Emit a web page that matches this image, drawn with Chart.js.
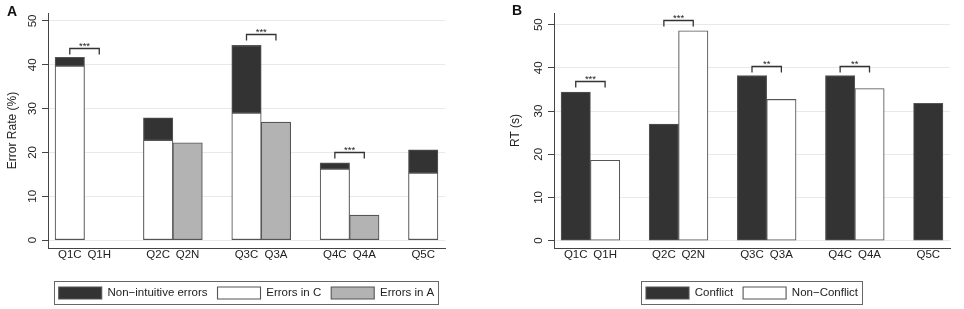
<!DOCTYPE html>
<html>
<head>
<meta charset="utf-8">
<script src="https://cdn.jsdelivr.net/npm/chart.js@4.4.1/dist/chart.umd.min.js"></script>
<style>
  body { margin: 0; background: #fff; }
  #wrap { position: relative; width: 964px; height: 309px; }
  .panel { position: absolute; top: 0; width: 482px; height: 309px; }
  .tag { position: absolute; font: bold 14px "Liberation Sans", Arial, sans-serif; line-height: 14px; color: #111; }
</style>
</head>
<body>
<div id="wrap">
  <div class="panel" style="left:0"><canvas id="chartA" width="482" height="309"></canvas></div>
  <div class="panel" style="left:482px"><canvas id="chartB" width="482" height="309"></canvas></div>
  <div class="tag" style="left:7px;top:4px">A</div>
  <div class="tag" style="left:512px;top:3px">B</div>
</div>
<script>
var questions = ['Q1C', 'Q1H', 'Q2C', 'Q2N', 'Q3C', 'Q3A', 'Q4C', 'Q4A', 'Q5C'];

// panel A - error rate (%)
var errorsC      = [39.7, null, 22.8, null, 29.0, null, 16.2, null, 15.3];
var nonIntuitive = [ 2.0, null,  5.1, null, 15.4, null,  1.4, null,  5.3];
var errorsA      = [null, null, null, 22.2, null, 26.9, null,  5.7, null];

// panel B - RT (s)
var conflict    = [34.4, null, 27.0, null, 38.2, null, 38.2, null, 31.8];
var nonConflict = [null, 18.6, null, 48.6, null, 32.7, null, 35.2, null];

var yTicks = [0, 10, 20, 30, 40, 50];

// significance brackets: question pair, stars, bracket height
var sigPairsA  = [0, 2, 3];
var sigStarsA  = ['***', '***', '***'];
var sigHeightA = [43.9, 47.0, 20.2];
var sigPairsB  = [0, 1, 2, 3];
var sigStarsB  = ['***', '***', '**', '**'];
var sigHeightB = [37.0, 51.0, 40.5, 40.5];

var FONT = '"Liberation Sans", Arial, sans-serif';
Chart.defaults.font.family = FONT;
Chart.defaults.color = '#222';

// pairs sit side by side, one empty slot between groups
function slot(i) { return i + Math.floor(i / 2); }
var positions = questions.map(function (q, i) { return slot(i); });

function bar(label, data, fill) {
  return {
    label: label, data: data, backgroundColor: fill,
    borderColor: '#555', borderWidth: 1.1, borderSkipped: false,
    barPercentage: 1, categoryPercentage: 1
  };
}

function brackets(pairs, stars, heights) {
  return {
    id: 'brackets',
    afterDatasetsDraw: function (chart) {
      var ctx = chart.ctx, xs = chart.scales.x, ys = chart.scales.y;
      ctx.save();
      ctx.strokeStyle = '#333';
      ctx.lineWidth = 1.3;
      ctx.fillStyle = '#222';
      ctx.font = '9.5px ' + FONT;
      ctx.textAlign = 'center';
      ctx.textBaseline = 'alphabetic';
      pairs.forEach(function (p, k) {
        var x1 = xs.getPixelForValue(slot(2 * p));
        var x2 = xs.getPixelForValue(slot(2 * p + 1));
        var y = Math.round(ys.getPixelForValue(heights[k])) + 0.5;
        ctx.beginPath();
        ctx.moveTo(x1, y + 6);
        ctx.lineTo(x1, y);
        ctx.lineTo(x2, y);
        ctx.lineTo(x2, y + 6);
        ctx.stroke();
        ctx.fillText(stars[k], (x1 + x2) / 2, y);
      });
      ctx.restore();
    }
  };
}

var legendFrame = {
  id: 'legendFrame',
  afterDraw: function (chart) {
    var hb = chart.legend.legendHitBoxes;
    if (!hb || !hb.length) return;
    var first = hb[0], last = hb[hb.length - 1];
    var ctx = chart.ctx;
    ctx.save();
    ctx.strokeStyle = '#666';
    ctx.lineWidth = 1;
    var l = Math.round(first.left - 5) + 0.5;
    var t = Math.round(first.top - 6) + 0.5;
    var r = Math.round(last.left + last.width + 4) + 0.5;
    var b = Math.round(first.top + 17) + 0.5;
    ctx.strokeRect(l, t, r - l, b - t);
    ctx.restore();
  }
};

function makeChart(id, datasets, legendOrder, opts) {
  return new Chart(document.getElementById(id), {
    type: 'bar',
    data: { labels: positions, datasets: datasets },
    options: {
      responsive: false,
      animation: false,
      layout: { padding: { top: 13, right: opts.padRight, left: 0, bottom: 0 } },
      plugins: {
        tooltip: { enabled: false },
        legend: {
          position: 'bottom',
          fullSize: false,
          labels: {
            boxWidth: 43, boxHeight: 12, padding: 10,
            font: { size: 11.5 }, color: '#222',
            sort: function (a, b) {
              return legendOrder.indexOf(a.datasetIndex) - legendOrder.indexOf(b.datasetIndex);
            }
          }
        }
      },
      scales: {
        x: {
          type: 'linear',
          min: -0.74, max: 12.74,
          offset: false,
          stacked: true,
          grid: { display: false, drawTicks: false },
          border: { color: '#444', width: 1 },
          ticks: {
            autoSkip: false, maxRotation: 0, padding: 0,
            font: { size: 11.5 }, color: '#222',
            callback: function (v, i) { return questions[i]; }
          },
          afterBuildTicks: function (s) {
            s.ticks = positions.map(function (v) { return { value: v }; });
          },
          afterFit: function (s) { s.height = 29; }
        },
        y: {
          min: opts.yMin, max: opts.yMax,
          stacked: opts.stackY,
          grid: { color: '#e6eaeb', tickColor: '#444', tickLength: 6, lineWidth: 1 },
          border: { color: '#444', width: 1 },
          ticks: {
            minRotation: 90, maxRotation: 90, crossAlign: 'center', padding: 3,
            font: { size: 11.5 }, color: '#222'
          },
          afterBuildTicks: function (s) {
            s.ticks = yTicks.map(function (v) { return { value: v }; });
          },
          title: {
            display: true, text: opts.yTitle, color: '#222',
            font: { size: 12 }, padding: { top: opts.titlePad, bottom: 0 }
          },
          afterFit: function (s) { s.width = opts.axisWidth; }
        }
      }
    },
    plugins: [brackets(opts.pairs, opts.stars, opts.heights), legendFrame]
  });
}

makeChart('chartA', [
  bar('Errors in C', errorsC, '#ffffff'),
  bar('Non\u2212intuitive errors', nonIntuitive, '#333333'),
  bar('Errors in A', errorsA, '#b3b3b3')
], [1, 0, 2], {
  padRight: 37, yMin: -1.8, yMax: 51.8, stackY: true,
  yTitle: 'Error Rate (%)', titlePad: 5, axisWidth: 48,
  pairs: sigPairsA, stars: sigStarsA, heights: sigHeightA
});

makeChart('chartB', [
  bar('Conflict', conflict, '#333333'),
  bar('Non\u2212Conflict', nonConflict, '#ffffff')
], [0, 1], {
  padRight: 14, yMin: -1.7, yMax: 52.7, stackY: false,
  yTitle: 'RT (s)', titlePad: 26, axisWidth: 72,
  pairs: sigPairsB, stars: sigStarsB, heights: sigHeightB
});
</script>
</body>
</html>
